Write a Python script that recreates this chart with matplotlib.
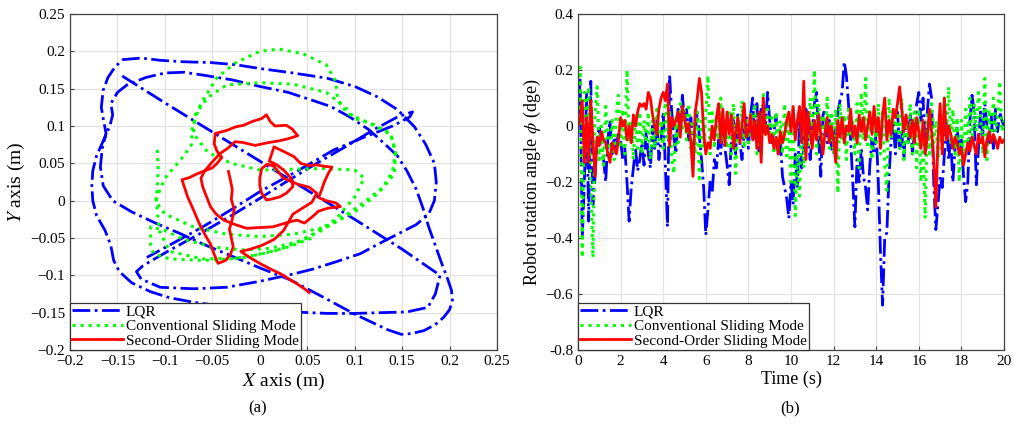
import numpy as np
import matplotlib
matplotlib.use("Agg")
import matplotlib.pyplot as plt

plt.rcParams['font.family'] = ['Liberation Serif', 'DejaVu Serif']
plt.rcParams['mathtext.fontset'] = 'stix'

# ---- (a) trajectories in the X-Y plane ----
lqr_x = [-0.145, -0.10, -0.05, 0.0, 0.05, 0.10, 0.15, 0.19,
         0.185, 0.177, 0.155, 0.127, 0.10, 0.071, 0.035, 0.0, -0.035, -0.07, -0.095, -0.115, -0.135,
         -0.148, -0.154, -0.157, -0.163, -0.172, -0.176, -0.177, -0.176, -0.172, -0.165, -0.158, -0.155,
         -0.157, -0.15, -0.14, -0.12, -0.10, -0.08, -0.059, -0.03, 0.0, 0.03, 0.054, 0.075, 0.095,
         0.115, 0.13, 0.145, 0.155, 0.165, 0.172, 0.178, 0.185, 0.192, 0.198, 0.202, 0.203, 0.20,
         0.194, 0.185, 0.173, 0.16, 0.149, 0.135,
         0.10, 0.065, 0.032, 0.0, -0.03, -0.06, -0.084, -0.11, -0.135, -0.155, -0.165, -0.168, -0.166,
         -0.162, -0.165, -0.167, -0.165, -0.16, -0.152, -0.144, -0.125, -0.105, -0.08, -0.052, -0.025,
         0.0, 0.035, 0.071, 0.10, 0.124, 0.145, 0.163, 0.175, 0.184, 0.186, 0.184, 0.178, 0.165,
         0.145, 0.125, 0.106, 0.08, 0.055, 0.036, 0.0, -0.035, -0.07, -0.105, -0.125, -0.13, -0.123,
         -0.10, -0.06, -0.03, 0.0, 0.03, 0.06, 0.09, 0.12, 0.145, 0.161, 0.158, 0.14, 0.11, 0.078,
         0.04, 0.0, -0.03, -0.06, -0.09, -0.119]
lqr_y = [0.167, 0.131, 0.092, 0.053, 0.014, -0.025, -0.065, -0.100,
         -0.125, -0.143, -0.149, -0.150, -0.151, -0.151, -0.149, -0.147, -0.142, -0.136, -0.130, -0.122, -0.110,
         -0.095, -0.080, -0.060, -0.040, -0.020, 0.000, 0.020, 0.040, 0.060, 0.080, 0.100, 0.115,
         0.130, 0.145, 0.155, 0.165, 0.171, 0.172, 0.168, 0.162, 0.153, 0.145, 0.135, 0.126, 0.112,
         0.095, 0.078, 0.060, 0.040, 0.015, -0.010, -0.035, -0.060, -0.085, -0.105, -0.120, -0.134, -0.146,
         -0.156, -0.166, -0.174, -0.178, -0.179, -0.173,
         -0.152, -0.128, -0.106, -0.090, -0.074, -0.058, -0.044, -0.030, -0.015, 0.000, 0.020, 0.045, 0.070,
         0.090, 0.110, 0.125, 0.148, 0.165, 0.180, 0.189, 0.191, 0.188, 0.186, 0.185, 0.182,
         0.177, 0.171, 0.164, 0.153, 0.139, 0.122, 0.099, 0.075, 0.050, 0.025, 0.000, -0.018, -0.032,
         -0.045, -0.058, -0.071, -0.082, -0.092, -0.098, -0.108, -0.116, -0.118, -0.116, -0.105, -0.095, -0.087,
         -0.070, -0.042, -0.020, 0.003, 0.027, 0.050, 0.072, 0.095, 0.112, 0.119, 0.112, 0.100, 0.085, 0.068,
         0.040, 0.012, -0.012, -0.035, -0.056, -0.076]

csm_x = [-0.108, -0.107, -0.109, -0.106, -0.095, -0.060, -0.020, 0.020, 0.050, 0.080, 0.100, 0.110,
         0.100, 0.070, 0.030, 0.000, -0.030, -0.055, -0.070, -0.068, -0.055, -0.035, 0.000, 0.035,
         0.070, 0.090, 0.100, 0.120, 0.138, 0.143, 0.142, 0.125, 0.100, 0.070, 0.035, 0.000,
         -0.035, -0.070, -0.100, -0.110, -0.100, -0.080, -0.072, -0.071, -0.062, -0.045, -0.025,
         0.000, 0.020, 0.045, 0.070, 0.080, 0.082, 0.092, 0.117, 0.138, 0.143, 0.140, 0.130, 0.110,
         0.090, 0.065, 0.040, 0.010, -0.020, -0.050, -0.080, -0.100, -0.115, -0.115, -0.112, -0.095,
         -0.060, -0.030, 0.000, 0.030, 0.055]
csm_y = [0.068, 0.040, 0.000, -0.040, -0.068, -0.078, -0.077, -0.066, -0.050, -0.025, 0.005, 0.030,
         0.041, 0.043, 0.042, 0.041, 0.050, 0.065, 0.090, 0.115, 0.138, 0.155, 0.158, 0.156,
         0.145, 0.125, 0.110, 0.102, 0.088, 0.065, 0.036, 0.010, -0.015, -0.035, -0.045, -0.048,
         -0.045, -0.035, -0.018, 0.000, 0.030, 0.060, 0.075, 0.100, 0.130, 0.165, 0.185,
         0.200, 0.203, 0.197, 0.182, 0.160, 0.135, 0.117, 0.103, 0.090, 0.065, 0.040, 0.018, -0.002,
         -0.020, -0.040, -0.055, -0.064, -0.066, -0.062, -0.052, -0.040, -0.035, -0.060, -0.071, -0.078,
         -0.080, -0.078, -0.072, -0.062, -0.050]

ssm_x = [-0.033, -0.031, -0.029, -0.030, -0.027, -0.029, -0.032, -0.030, -0.028, -0.031, -0.036, -0.044,
         -0.048, -0.052, -0.058, -0.064, -0.070, -0.076, -0.082, -0.074, -0.066, -0.058, -0.050, -0.045,
         -0.040, -0.045, -0.048, -0.047, -0.035, -0.025, -0.017, -0.008, 0.002, 0.007, 0.011, 0.016,
         0.028, 0.034, 0.040,
         0.030, 0.020, 0.010, -0.005, -0.018, -0.026, -0.034, -0.042, -0.050, -0.058, -0.062, -0.060,
         -0.056, -0.052, -0.046, -0.038, -0.026, -0.014, 0.000, 0.014, 0.027, 0.039, 0.047, 0.055, 0.062,
         0.072, 0.085, 0.080, 0.070, 0.062, 0.065, 0.068, 0.072, 0.076, 0.068, 0.060, 0.052, 0.043,
         0.036, 0.025, 0.015,
         0.010, 0.018, 0.026, 0.033, 0.035, 0.028, 0.021, 0.012, 0.007, 0.002, 0.000, 0.000, 0.002,
         0.008, 0.015, 0.025, 0.040, 0.052, 0.060, 0.055, 0.045, 0.035, 0.025, 0.015, 0.002, -0.010,
         -0.020,
         -0.012, 0.000, 0.012, 0.022, 0.032, 0.040, 0.047, 0.052]
ssm_y = [0.039, 0.028, 0.015, 0.002, -0.012, -0.025, -0.038, -0.050, -0.062, -0.072, -0.080, -0.084,
         -0.072, -0.058, -0.045, -0.030, -0.012, 0.005, 0.028, 0.031, 0.036, 0.040, 0.044, 0.050,
         0.058, 0.066, 0.076, 0.090, 0.094, 0.099, 0.101, 0.106, 0.110, 0.115, 0.106, 0.100,
         0.101, 0.096, 0.087,
         0.083, 0.080, 0.078, 0.074, 0.078, 0.079, 0.070, 0.063, 0.052, 0.040, 0.030, 0.018,
         0.005, -0.008, -0.018, -0.026, -0.032, -0.037, -0.036, -0.035, -0.030, -0.026, -0.030, -0.022, -0.014,
         -0.010, -0.008, -0.003, 0.000, 0.004, 0.014, 0.025, 0.036, 0.045, 0.046, 0.048, 0.047, 0.050,
         0.059, 0.066, 0.072,
         0.053, 0.048, 0.040, 0.030, 0.019, 0.010, 0.005, 0.002, 0.001, 0.010, 0.020, 0.030, 0.043,
         0.049, 0.046, 0.030, 0.022, 0.018, 0.010, -0.002, -0.010, -0.018, -0.040, -0.052, -0.060, -0.065,
         -0.068,
         -0.075, -0.084, -0.092, -0.098, -0.106, -0.112, -0.118, -0.123]

xy_ticks = [-0.2, -0.15, -0.1, -0.05, 0, 0.05, 0.1, 0.15, 0.2, 0.25]
xy_labels = ['\u22120.2', '\u22120.15', '\u22120.1', '\u22120.05', '0', '0.05', '0.1', '0.15', '0.2', '0.25']

# ---- (b) robot rotation angle vs time (dt = 0.1 s) ----
t = np.arange(0, 20.05, 0.1)
lqr_phi = [0.0, 0.17, -0.40, -0.20, 0.12, -0.34, 0.16, -0.28, -0.18, -0.05,
           0.0, -0.08, -0.12, -0.20, -0.05, 0.02, -0.10, -0.04, -0.08, -0.02,
           -0.05, -0.12, -0.08, -0.20, -0.34, -0.22, -0.15, -0.08, -0.16, -0.12,
           -0.06, -0.14, -0.02, -0.10, -0.15, 0.0, -0.08, 0.02, -0.12, -0.05,
           0.05, -0.14, -0.36, 0.18, 0.05, -0.04, -0.10, 0.06, -0.02, 0.11,
           0.02, 0.06, -0.05, 0.03, -0.08, -0.02, 0.05, -0.04, -0.12, -0.22,
           -0.39, -0.30, -0.20, -0.24, -0.12, -0.15, -0.05, -0.10, 0.02, -0.08,
           -0.14, -0.21, -0.05, 0.02, -0.10, 0.04, -0.06, -0.12, -0.02, 0.03,
           -0.08, 0.04, 0.10, -0.05, 0.08, -0.10, 0.06, -0.02, 0.0, 0.12,
           0.02, -0.06, -0.02, 0.04, -0.10, -0.05, -0.18, -0.22, -0.26, -0.33,
           -0.20, -0.28, -0.10, -0.22, 0.02, -0.15, -0.08, 0.06, -0.05, -0.12,
           -0.02, 0.08, 0.12, -0.05, -0.18, 0.04, 0.06, -0.06, 0.02, -0.08,
           -0.10, 0.0, 0.05, 0.09, 0.12, 0.23, 0.18, 0.08, -0.05, -0.20,
           -0.36, -0.12, -0.20, -0.08, -0.18, -0.22, -0.30, -0.14, -0.05, -0.10,
           -0.02, -0.20, -0.45, -0.64, -0.40, -0.38, -0.18, -0.05, 0.02, -0.10,
           0.05, -0.08, -0.02, -0.12, 0.02, -0.06, 0.04, -0.10, -0.02, 0.08,
           0.12, 0.02, 0.10, -0.08, 0.05, 0.15, 0.10, -0.20, -0.37, -0.28,
           -0.18, -0.22, -0.10, 0.02, -0.12, -0.05, -0.20, -0.08, 0.0, -0.10,
           -0.05, -0.18, -0.27, -0.20, 0.02, 0.11, 0.05, -0.21, -0.08, 0.06,
           -0.04, 0.08, 0.0, -0.06, 0.04, -0.08, 0.06, -0.02, 0.05, 0.02,
           0.0]
csm_phi = [0.0, 0.21, -0.47, 0.12, 0.02, 0.14, -0.20, -0.47, 0.05, 0.14,
           -0.12, 0.0, -0.14, 0.07, -0.05, -0.10, 0.02, -0.12, 0.04, 0.11,
           -0.08, 0.06, -0.10, 0.20, -0.05, 0.02, -0.12, 0.04, -0.08, 0.05,
           -0.10, 0.02, -0.06, 0.05, -0.12, 0.03, -0.08, 0.06, -0.05, 0.02,
           -0.08, 0.10, -0.04, 0.06, -0.12, -0.17, 0.04, -0.06, 0.08, -0.02,
           0.06, -0.05, 0.08, -0.08, 0.02, -0.10, 0.05, -0.20, 0.03, -0.08,
           0.05, 0.18, -0.10, 0.06, -0.08, 0.04, -0.05, 0.10, -0.06, 0.02,
           -0.08, 0.06, -0.10, 0.08, -0.17, 0.03, -0.04, 0.09, -0.08, 0.02,
           -0.06, 0.05, -0.02, 0.08, -0.10, 0.04, -0.05, 0.12, -0.03, 0.06,
           -0.04, 0.03, -0.10, 0.05, -0.06, 0.02, -0.10, 0.08, -0.12, 0.02,
           -0.20, 0.06, -0.32, -0.10, -0.25, 0.05, -0.15, 0.02, -0.08, 0.10,
           -0.05, 0.20, -0.10, 0.08, -0.06, 0.04, -0.02, 0.10, -0.08, 0.05,
           -0.10, 0.06, -0.24, 0.08, -0.05, 0.04, -0.12, 0.06, -0.04, 0.02,
           -0.10, 0.08, -0.15, 0.12, -0.05, 0.17, -0.08, 0.06, -0.12, 0.03,
           -0.06, 0.08, -0.10, 0.05, -0.14, -0.23, 0.10, -0.05, 0.06, -0.02,
           0.05, -0.08, 0.10, -0.12, 0.04, -0.06, 0.08, -0.10, 0.05, -0.15,
           0.06, -0.20, -0.05, -0.33, 0.04, -0.10, 0.08, -0.06, 0.02, -0.12,
           0.05, -0.08, 0.10, -0.04, 0.14, -0.06, 0.06, -0.10, 0.03, -0.20,
           0.02, -0.12, 0.06, -0.08, 0.10, -0.05, 0.08, -0.02, 0.12, 0.04,
           -0.10, 0.17, -0.12, 0.06, -0.06, 0.10, -0.02, 0.04, 0.16, -0.02,
           0.02]
ssm_phi = [0.0, 0.02, 0.09, -0.13, 0.03, -0.13, 0.09, -0.05, -0.18, -0.04,
           -0.07, -0.02, -0.05, -0.06, -0.10, -0.13, -0.06, -0.08, -0.10, -0.05,
           0.03, 0.0, 0.02, -0.05, 0.0, -0.06, 0.04, 0.0, 0.05, 0.08,
           0.07, 0.08, 0.06, 0.12, 0.10, 0.04, 0.0, -0.03, 0.06, 0.10,
           0.12, 0.09, 0.15, -0.07, 0.03, 0.0, 0.02, 0.05, -0.04, 0.07,
           0.03, -0.02, 0.01, -0.06, -0.18, 0.05, 0.10, 0.17, 0.12, -0.02,
           -0.10, -0.06, -0.08, 0.0, -0.05, 0.03, 0.08, -0.06, 0.06, -0.07,
           0.05, -0.03, 0.04, -0.08, -0.02, 0.03, -0.06, 0.0, 0.08, -0.04,
           -0.02, 0.04, -0.05, 0.02, -0.08, 0.05, -0.13, 0.10, -0.03, 0.0,
           -0.06, -0.03, -0.08, -0.04, -0.10, -0.02, -0.06, -0.03, 0.02, 0.05,
           -0.02, 0.07, -0.05, 0.02, 0.07, -0.06, 0.16, -0.12, 0.05, -0.02,
           -0.08, 0.02, -0.05, 0.04, -0.03, -0.10, -0.02, 0.03, -0.06, 0.0,
           -0.05, -0.13, 0.02, -0.04, 0.03, -0.06, 0.0, -0.02, 0.06, -0.04,
           0.0, -0.06, 0.04, -0.02, 0.03, -0.05, 0.0, 0.05, -0.03, 0.07,
           -0.02, 0.03, -0.08, 0.04, 0.10, -0.05, 0.02, -0.03, 0.06, 0.03,
           0.08, 0.14, 0.06, -0.02, 0.04, 0.0, -0.04, 0.02, -0.06, 0.03,
           -0.02, -0.08, 0.02, -0.10, -0.04, 0.06, -0.02, -0.12, -0.29, -0.05,
           0.08, -0.10, 0.10, -0.05, 0.0, -0.03, -0.08, -0.04, -0.06, -0.10,
           -0.08, -0.14, -0.10, -0.06, -0.09, -0.04, -0.07, -0.10, -0.03, -0.06,
           -0.04, -0.11, -0.05, -0.02, -0.06, -0.03, -0.05, -0.08, -0.04, -0.06,
           -0.05]

phi_ticks = [-0.8, -0.6, -0.4, -0.2, 0, 0.2, 0.4]
phi_labels = ['-0.8', '\u22120.6', '\u22120.4', '\u22120.2', '0', '0.2', '0.4']
time_ticks = list(range(0, 21, 2))

names = ['LQR', 'Conventional Sliding Mode', 'Second-Order Sliding Mode']

fig = plt.figure(figsize=(10.22, 4.24), dpi=100)
ax1 = fig.add_axes([70/1022, 74/424, 427/1022, 336/424])
ax2 = fig.add_axes([578/1022, 74/424, 426/1022, 336/424])

def style(ax):
    ax.grid(True, color='#e3e3e3', linewidth=0.9)
    ax.set_axisbelow(True)
    ax.tick_params(direction='in', length=3, labelsize=11, color='#444444', width=0.8)
    for s in ax.spines.values():
        s.set_color('#444444')
        s.set_linewidth(0.9)

ax1.plot(lqr_x, lqr_y, '-.', color='#0000ff', lw=2, label=names[0])
ax1.plot(csm_x, csm_y, ':', color='#00ff00', lw=2.2, label=names[1])
ax1.plot(ssm_x, ssm_y, '-', color='#ff0000', lw=2, label=names[2])
ax1.set_xlim(-0.2, 0.25)
ax1.set_ylim(-0.2, 0.25)
ax1.set_xticks(xy_ticks, xy_labels)
ax1.set_yticks(xy_ticks, xy_labels)
ax1.set_xlabel('$X$ axis (m)', fontsize=14, labelpad=2)
ax1.set_ylabel('$Y$ axis (m)', fontsize=14, labelpad=2)
style(ax1)

ax2.plot(t, lqr_phi, '-.', color='#0000ff', lw=2, label=names[0])
ax2.plot(t, csm_phi, ':', color='#00ff00', lw=2.2, label=names[1])
ax2.plot(t, ssm_phi, '-', color='#ff0000', lw=2, label=names[2])
ax2.set_xlim(0, 20)
ax2.set_ylim(-0.8, 0.4)
ax2.set_xticks(time_ticks)
ax2.set_yticks(phi_ticks, phi_labels)
ax2.set_xlabel('Time (s)', fontsize=13, labelpad=2)
ax2.set_ylabel('Robot rotation angle $\\phi$ (dge)', fontsize=13, labelpad=2)
style(ax2)

for ax in (ax1, ax2):
    leg = ax.legend(loc='lower left', fontsize=11, borderaxespad=0, fancybox=False,
                    handlelength=3.3, handletextpad=0.2, labelspacing=0.05,
                    borderpad=0.15, framealpha=1)
    leg.get_frame().set_edgecolor('#333333')
    leg.get_frame().set_linewidth(0.9)

fig.text(258/1022, 1 - 408/424, '(a)', ha='center', va='center', fontsize=12)
fig.text(790/1022, 1 - 408/424, '(b)', ha='center', va='center', fontsize=12)

fig.savefig('out.png', dpi=100)
